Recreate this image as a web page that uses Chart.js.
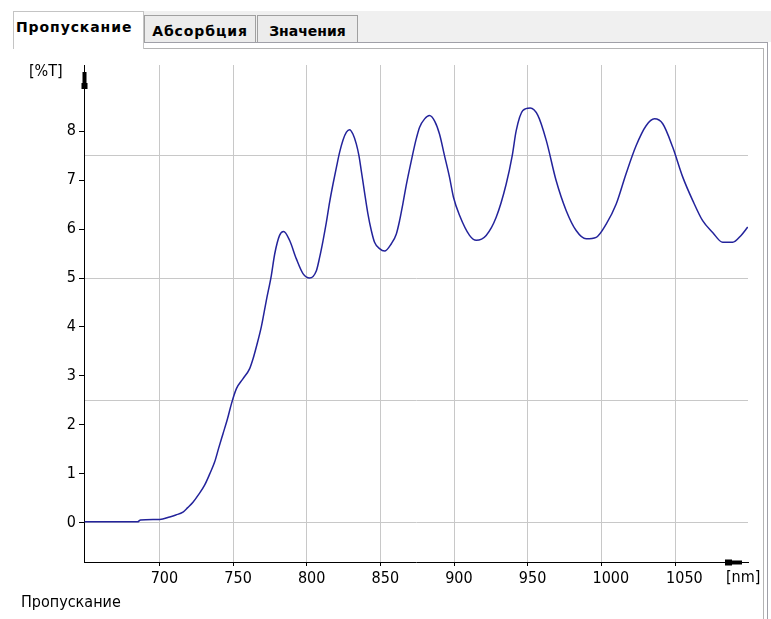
<!DOCTYPE html>
<html>
<head>
<meta charset="utf-8">
<script src="https://cdn.jsdelivr.net/npm/chart.js@4/dist/chart.umd.min.js"></script>
<style>
	html, body { margin: 0; padding: 0; background: #fff; }
	body { position: relative; width: 771px; height: 619px; overflow: hidden; }
	#chart { position: absolute; left: 0; top: 0; }
	.abs { position: absolute; }
	.tabs-band { left: 143px; top: 11px; width: 628px; height: 31px; background: #f0f0f0; }
	.tab { box-sizing: border-box; font: bold 14px "DejaVu Sans", sans-serif; color: #000; white-space: nowrap; }
	.tab.active { left: 13px; top: 11px; width: 131px; height: 38px; padding-left: 2px; background: #fff; border: 1px solid #c4c4c4; border-bottom: none; line-height: 30px; letter-spacing: 0.9px; z-index: 2; }
	.tab.idle { top: 15px; height: 27px; background: #ececec; border: 1px solid #a0a0a0; border-bottom: none; line-height: 30px; text-align: center; }
	.line { background: #a0a0a8; }
	.axis-text { font: 16px "DejaVu Sans Condensed", "Liberation Sans Narrow", "DejaVu Sans", sans-serif; color: #000; line-height: 16px; white-space: nowrap; }
</style>
</head>
<body>
<div class="abs tabs-band"></div>
<div class="abs line" style="left:143px;top:42px;width:625px;height:1px;"></div>
<div class="abs line" style="left:767px;top:42px;width:1px;height:577px;"></div>
<div class="abs line" style="left:13px;top:48px;width:751px;height:1px;background:#b4b4b4;"></div>
<div class="abs line" style="left:763px;top:48px;width:1px;height:571px;background:#b4b4b4;"></div>
<div class="abs tab active">Пропускание</div>
<div class="abs tab idle" style="left:144px;width:112px;letter-spacing:0.9px;">Абсорбция</div>
<div class="abs tab idle" style="left:257px;width:101px;">Значения</div>

<canvas id="chart" width="771" height="619"></canvas>

<div class="abs axis-text" style="left:29px;top:63px;">[%T]</div>
<div class="abs axis-text" style="left:726px;top:569px;">[nm]</div>
<div class="abs axis-text" style="left:21px;top:594px;">Пропускание</div>

<script>
// spectrum
const wavelengths = [649, 670, 685, 687, 700, 706.8, 711, 715.8, 719, 722.6, 726.5, 730.5, 734, 737.3, 740, 743, 746, 748.7, 752.1, 756.5, 761.1, 763.5, 765.6, 769, 772.4, 775.8, 778.1, 781.4, 784.2, 788.2, 792.8, 797.3, 801.8, 806.4, 808.6, 810.9, 813.2, 815.4, 817.7, 820, 822.2, 824.5, 826.8, 829, 831.2, 833.5, 835.3, 836.9, 839.1, 841.4, 843.7, 845.9, 849.3, 852.7, 857.3, 860.7, 862.9, 865.1, 867.4, 869.7, 871.9, 874.2, 876.5, 879.9, 883.2, 886.8, 890, 893.4, 896.8, 899.5, 903.6, 910.4, 915, 921.7, 928.5, 935.3, 939.4, 942.1, 946.6, 951.6, 956.8, 962.5, 969.2, 976, 982.8, 989.6, 996.4, 1003.2, 1010, 1016.7, 1023.5, 1030.3, 1036, 1041.6, 1048.4, 1055.2, 1062, 1068.7, 1075.5, 1082.3, 1089.1, 1094.8, 1099.3];
const transmission = [0.02, 0.02, 0.02, 0.06, 0.07, 0.12, 0.16, 0.22, 0.31, 0.42, 0.58, 0.77, 1.0, 1.24, 1.52, 1.82, 2.12, 2.43, 2.74, 2.94, 3.15, 3.36, 3.59, 4.0, 4.54, 5.05, 5.49, 5.87, 5.95, 5.77, 5.39, 5.09, 5.0, 5.15, 5.42, 5.76, 6.14, 6.55, 6.92, 7.26, 7.57, 7.82, 7.98, 8.03, 7.94, 7.74, 7.5, 7.19, 6.75, 6.31, 5.97, 5.73, 5.6, 5.55, 5.7, 5.9, 6.17, 6.51, 6.89, 7.23, 7.54, 7.84, 8.08, 8.25, 8.32, 8.2, 7.94, 7.5, 7.06, 6.65, 6.28, 5.87, 5.77, 5.87, 6.24, 6.92, 7.5, 8.01, 8.42, 8.47, 8.32, 7.81, 6.99, 6.38, 5.97, 5.8, 5.83, 6.1, 6.51, 7.13, 7.7, 8.11, 8.25, 8.15, 7.67, 7.06, 6.58, 6.17, 5.93, 5.73, 5.73, 5.87, 6.04];

const xTicks = [700, 750, 800, 850, 900, 950, 1000, 1050];
const yLabels = [0, 1, 2, 3, 4, 5, 6, 7, 8];
const yGridLines = [0, 2.5, 5, 7.5];

const axisFont = { family: '"DejaVu Sans Condensed", "Liberation Sans Narrow", "DejaVu Sans", sans-serif', size: 16 };
const gridColor = "#c8c8c8";

// little black arrow heads on both axes
const axisArrows = {
	id: "axisArrows",
	afterDraw(chart) {
		const {ctx, chartArea} = chart;
		const x = chartArea.left, y = chartArea.bottom;
		ctx.save();
		ctx.fillStyle = "#000";
		ctx.fillRect(x - 1.5, chartArea.top + 7, 4, 17);
		ctx.fillRect(x - 2.5, chartArea.top + 18, 6, 6);
		ctx.fillRect(chartArea.right - 23, y - 1.5, 17, 4);
		ctx.fillRect(chartArea.right - 23, y - 2.5, 7, 6);
		ctx.restore();
	}
};

const ctx = document.getElementById("chart").getContext("2d");

new Chart(ctx, {
	type: "line",
	data: {
		datasets: [{
			label: "Пропускание",
			data: wavelengths.map((nm, i) => ({ x: nm, y: transmission[i] })),
			borderColor: "#23239b",
			borderWidth: 1.5,
			pointRadius: 0,
			fill: false,
			cubicInterpolationMode: "monotone"
		}]
	},
	options: {
		responsive: false,
		animation: false,
		devicePixelRatio: 1,
		layout: { padding: { left: 0, top: 65, right: 23, bottom: 0 } },
		plugins: {
			legend: { display: false },
			tooltip: { enabled: false }
		},
		scales: {
			x: {
				type: "linear",
				min: 648.6,
				max: 1099.5,
				afterBuildTicks: axis => { axis.ticks = xTicks.map(v => ({ value: v })); },
				afterFit: scale => { scale.height = 57; },
				border: { display: true, color: "#000", width: 1 },
				grid: { color: gridColor, tickColor: "#000", tickLength: 4 },
				ticks: {
					autoSkip: false,
					maxRotation: 0,
					align: "start",
					labelOffset: -9,
					padding: 3,
					color: "#000",
					font: axisFont,
					callback: v => String(v)
				}
			},
			y: {
				min: -0.8,
				max: 9.35,
				afterBuildTicks: axis => {
					const vals = [...new Set(yLabels.concat(yGridLines))].sort((a, b) => a - b);
					axis.ticks = vals.map(v => ({ value: v }));
				},
				afterFit: scale => { scale.width = 84; },
				border: { display: true, color: "#000", width: 1 },
				grid: {
					color: c => yGridLines.includes(c.tick.value) ? gridColor : "rgba(0,0,0,0)",
					tickColor: c => yLabels.includes(c.tick.value) ? "#000" : "rgba(0,0,0,0)",
					tickLength: 5
				},
				ticks: {
					padding: 3,
					color: "#000",
					font: axisFont,
					callback: v => yLabels.includes(v) ? String(v) : ""
				}
			}
		}
	},
	plugins: [axisArrows]
});
</script>
</body>
</html>
